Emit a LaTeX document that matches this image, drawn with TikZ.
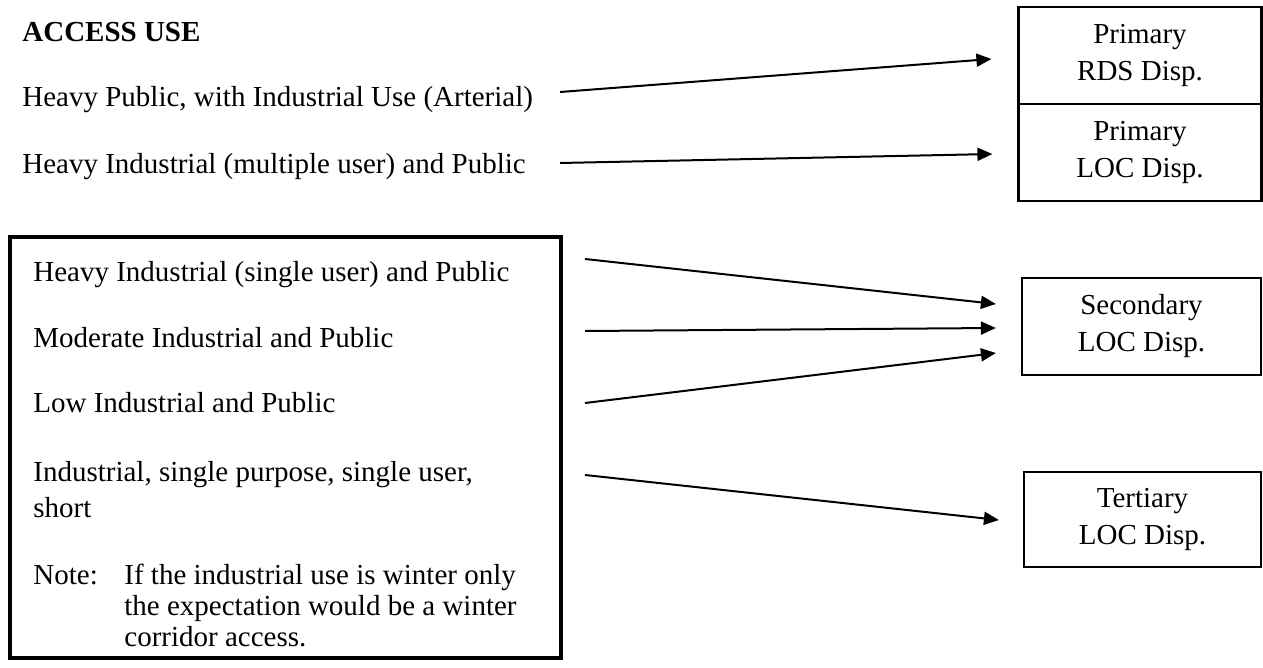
\documentclass[tikz,border=0pt]{standalone}
\usepackage{fontspec}
\setmainfont{Liberation Serif}
\usetikzlibrary{arrows.meta}
\begin{document}
\begin{tikzpicture}[x=0.5pt,y=-0.5pt,
  txt/.style={anchor=base west, inner sep=0pt, font=\fontsize{14.5}{18.5}\selectfont},
  lbl/.style={draw, line width=1.1pt, align=center, inner sep=0pt,
     font=\fontsize{14.5}{18.5}\selectfont},
  frame/.style={draw, line width=1.6pt, inner sep=0pt},
  conn/.style={-{Triangle[length=7.5pt,width=6.5pt]}, line width=1pt}]
\useasboundingbox (0,0) rectangle (1263,668);
\fill[white] (0,0) rectangle (1263,668);

% right boxes
\node[lbl, minimum width=121.5pt, minimum height=48.5pt] (prds) at (1140,55.5) {Primary\\RDS Disp.};
\node[lbl, minimum width=121.5pt, minimum height=48.5pt] (ploc) at (1140,152.5) {Primary\\LOC Disp.};
\node[lbl, minimum width=119.5pt, minimum height=48.5pt] (sloc) at (1141.5,326.5) {Secondary\\LOC Disp.};
\node[lbl, minimum width=118.5pt, minimum height=47.5pt] (tloc) at (1142.5,519.5) {Tertiary\\LOC Disp.};

% left texts
\node[txt, font=\fontsize{14.5}{18.5}\selectfont\bfseries] (title) at (22,42) {ACCESS USE};
\node[txt] (hp) at (22,107) {Heavy Public, with Industrial Use (Arterial)};
\node[txt] (him) at (22,174) {Heavy Industrial (multiple user) and Public};

% framed group
\node[frame, minimum width=275.5pt, minimum height=210.5pt] (grp) at (285.5,447.5) {};
\node[txt] (his) at (33,281) {Heavy Industrial (single user) and Public};
\node[txt] (mod) at (33,347) {Moderate Industrial and Public};
\node[txt] (low) at (33,412) {Low Industrial and Public};
\node[txt] (ind) at (33,481) {Industrial, single purpose, single user,};
\node[txt] (short) at (33,517) {short};
\node[txt] (note) at (33,584) {Note:};
\node[txt] (n1) at (124,584) {If the industrial use is winter only};
\node[txt] (n2) at (124,615) {the expectation would be a winter};
\node[txt] (n3) at (124,646) {corridor access.};

% arrow starts
\coordinate (s1) at (560,92);
\coordinate (s2) at (560,163);
\coordinate (s3) at (585,259);
\coordinate (s4) at (585,331);
\coordinate (s5) at (585,403);
\coordinate (s6) at (585,475);

\draw[conn] (s1) -- ([xshift=-13pt,yshift=-1.75pt]prds.west);
\draw[conn] (s2) -- ([xshift=-12.5pt,yshift=-0.75pt]ploc.west);
\draw[conn] (s3) -- ([xshift=-12.5pt,yshift=11.25pt]sloc.west);
\draw[conn] (s4) -- ([xshift=-12.5pt,yshift=-0.75pt]sloc.west);
\draw[conn] (s5) -- ([xshift=-12.5pt,yshift=-13.25pt]sloc.west);
\draw[conn] (s6) -- ([xshift=-12pt,yshift=-0.25pt]tloc.west);
\end{tikzpicture}
\end{document}
